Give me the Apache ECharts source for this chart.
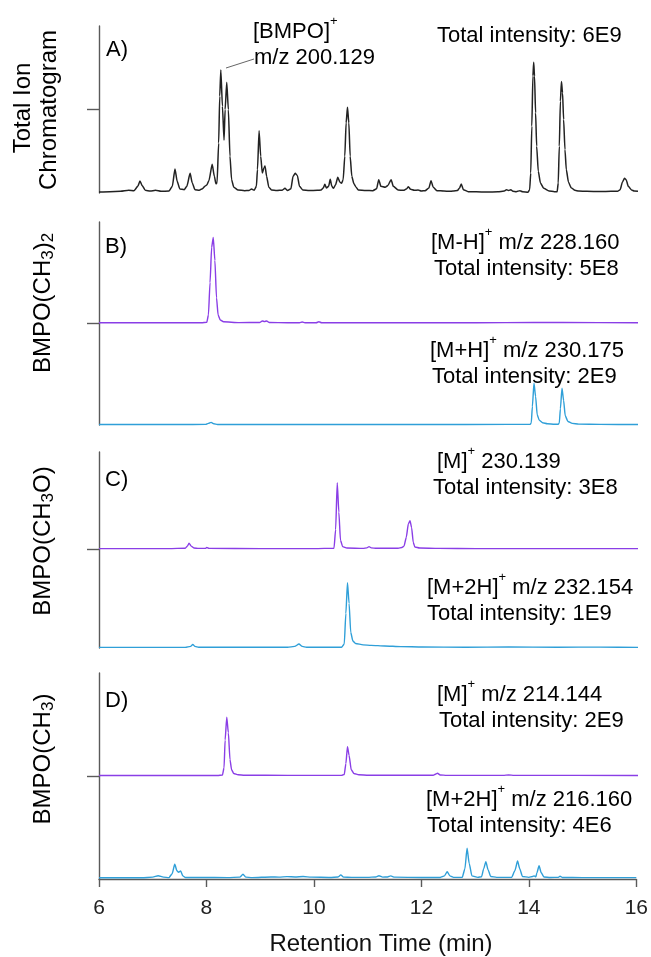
<!DOCTYPE html>
<html>
<head>
<meta charset="utf-8">
<script src="https://cdn.jsdelivr.net/npm/echarts@6/dist/echarts.min.js"></script>
<style>
  html, body { margin: 0; padding: 0; background: #fff; }
  #chart { width: 651px; height: 957px; }
</style>
</head>
<body>
<div id="chart"></div>
<script>
// retention time ticks (min)
var xTicks = [6, 8, 10, 12, 14, 16];

// A) total ion chromatogram, [time, relative height]
var ticTrace = [
  [6.00,0.6],[6.20,0.8],[6.40,1.0],[6.55,1.6],[6.65,1.4],[6.72,4.0],[6.76,7.2],[6.80,4.5],[6.86,1.6],[6.95,1.2],
  [7.05,1.6],[7.15,1.0],[7.30,1.2],[7.36,4.0],[7.41,14.4],[7.45,7.0],[7.50,2.4],[7.58,2.0],[7.63,4.0],[7.69,11.8],
  [7.73,6.0],[7.78,2.0],[7.86,1.6],[7.92,2.6],[7.97,4.2],[8.00,4.8],[8.04,7.5],[8.10,17.2],[8.14,10.0],[8.17,5.5],
  [8.19,6.0],[8.22,30.0],[8.24,58.0],[8.26,73.7],[8.29,52.0],[8.32,31.7],[8.34,50.0],[8.37,66.3],[8.40,50.0],[8.43,22.0],
  [8.46,8.0],[8.50,3.5],[8.58,1.8],[8.70,1.4],[8.78,1.5],[8.83,2.4],[8.88,1.6],[8.92,4.0],[8.94,14.0],[8.97,37.3],
  [9.00,22.0],[9.03,12.0],[9.06,15.0],[9.08,16.2],[9.11,10.0],[9.15,3.5],[9.20,1.8],[9.30,1.5],[9.40,1.7],[9.45,2.8],
  [9.50,1.5],[9.56,2.5],[9.60,10.0],[9.64,11.8],[9.68,10.5],[9.72,4.0],[9.78,1.8],[9.90,1.5],[10.05,1.6],[10.12,1.8],
  [10.16,3.0],[10.19,5.2],[10.22,3.0],[10.26,4.0],[10.29,8.2],[10.32,4.0],[10.35,2.8],[10.39,5.0],[10.43,9.4],[10.47,6.5],
  [10.50,5.8],[10.53,8.0],[10.56,22.0],[10.585,42.0],[10.61,51.3],[10.635,42.0],[10.66,22.0],[10.69,10.0],[10.73,5.5],[10.77,3.5],
  [10.81,1.8],[10.95,1.5],[11.08,1.4],[11.15,2.5],[11.19,8.0],[11.23,4.0],[11.31,3.4],[11.36,4.5],[11.42,8.0],[11.46,4.0],
  [11.55,1.8],[11.65,1.6],[11.71,2.5],[11.74,3.8],[11.78,2.2],[11.85,1.6],[11.92,1.8],[11.98,1.2],[12.05,1.4],[12.12,3.0],
  [12.16,7.4],[12.20,3.5],[12.27,1.4],[12.40,1.2],[12.50,1.0],[12.57,1.2],[12.65,1.5],[12.69,3.0],[12.72,5.4],[12.76,2.0],
  [12.85,0.8],[13.00,0.7],[13.20,0.6],[13.40,0.7],[13.52,1.2],[13.56,2.0],[13.60,1.5],[13.64,2.0],[13.68,1.0],[13.74,0.8],
  [13.81,1.4],[13.86,0.7],[13.96,0.5],[13.99,2.0],[14.01,12.0],[14.03,40.0],[14.05,70.0],[14.065,78.3],[14.08,70.0],[14.10,48.0],
  [14.12,28.0],[14.15,13.0],[14.19,6.0],[14.25,2.8],[14.35,1.2],[14.45,0.8],[14.50,0.8],[14.52,6.0],[14.54,28.0],[14.56,55.0],
  [14.58,66.7],[14.60,60.0],[14.62,44.0],[14.645,26.0],[14.67,14.0],[14.71,6.5],[14.76,3.2],[14.83,1.6],[14.90,1.2],[15.05,1.0],
  [15.30,0.9],[15.50,1.0],[15.62,1.0],[15.67,2.0],[15.71,6.5],[15.75,8.8],[15.78,8.0],[15.82,4.0],[15.88,1.8],[15.93,1.2],
  [16.00,1.0]
];

// B) BMPO(CH3)2
var bMinusH = [ // [M-H]+ m/z 228.160
  [6.00,0.3],[7.00,0.3],[7.90,0.3],[8.00,0.8],[8.03,8],[8.06,40],[8.09,75],[8.12,84.8],[8.15,62],[8.18,25],
  [8.21,8],[8.25,3.0],[8.31,1.2],[8.60,0.4],[8.98,0.5],[9.03,2.0],[9.07,1.4],[9.11,2.0],[9.16,0.5],[9.50,0.3],
  [9.72,0.3],[9.77,1.0],[9.82,0.3],[10.03,0.3],[10.08,1.2],[10.13,0.3],[11.00,0.3],[12.00,0.2],[13.00,0.2],[14.07,0.6],
  [14.60,0.5],[16.00,0.2]
];
var bPlusH = [ // [M+H]+ m/z 230.175
  [6.00,0.5],[7.50,0.5],[7.98,0.6],[8.03,1.6],[8.08,2.6],[8.13,1.2],[8.20,0.5],[10.00,0.5],[12.00,0.5],[13.60,0.6],
  [14.00,0.6],[14.02,2],[14.04,18],[14.07,40.9],[14.10,28],[14.13,10],[14.17,4.5],[14.23,2.2],[14.32,1.2],[14.45,0.8],
  [14.52,0.8],[14.54,2],[14.56,16],[14.59,36],[14.62,24],[14.65,9],[14.70,3.5],[14.78,1.6],[14.90,0.9],[15.30,0.6],
  [16.00,0.5]
];

// C) BMPO(CH3O)
var cM = [ // [M]+ 230.139
  [6.00,0.4],[7.30,0.4],[7.60,0.8],[7.64,3],[7.67,5.9],[7.71,3],[7.76,1.0],[7.85,0.6],[7.97,0.6],[8.00,1.5],
  [8.04,0.6],[9.00,0.4],[10.00,0.4],[10.36,0.8],[10.39,20],[10.42,68.4],[10.45,38],[10.48,9],[10.52,2.5],[10.60,1],
  [10.90,0.6],[10.97,1.2],[11.01,2.4],[11.05,1.2],[11.15,0.7],[11.55,0.8],[11.62,1.5],[11.66,3],[11.70,12],[11.74,26],
  [11.77,29.2],[11.80,22],[11.83,7],[11.86,2],[11.95,1.0],[12.30,0.6],[13.00,0.4],[16.00,0.4]
];
var cM2H = [ // [M+2H]+ m/z 232.154
  [6.00,0.6],[7.60,0.6],[7.70,1.6],[7.74,3.7],[7.78,1.6],[7.85,0.7],[9.50,0.7],[9.63,1.6],[9.71,4.0],[9.77,1.6],
  [9.85,0.8],[10.50,0.8],[10.55,4],[10.58,35],[10.61,66],[10.64,45],[10.67,16],[10.71,7],[10.76,4.5],[10.90,3.2],
  [11.05,2.7],[11.30,2.0],[11.60,1.4],[12.00,1.0],[12.80,0.8],[13.60,1.0],[14.50,0.8],[15.30,0.9],[16.00,0.6]
];

// D) BMPO(CH3)
var dM = [ // [M]+ m/z 214.144
  [6.00,0.5],[8.20,0.5],[8.29,1.0],[8.32,8],[8.34,35],[8.37,57],[8.40,42],[8.43,16],[8.46,6],[8.50,2.5],
  [8.58,1.2],[8.70,0.8],[9.50,0.6],[10.50,0.6],[10.55,1.5],[10.58,12],[10.61,28.5],[10.64,20],[10.68,6],[10.73,2.4],
  [10.82,1.2],[11.00,0.7],[12.20,0.7],[12.25,2],[12.28,2.6],[12.33,1.0],[12.45,0.6],[13.50,0.6],[13.60,1.0],[13.70,0.6],
  [16.00,0.5]
];
var dM2H = [ // [M+2H]+ m/z 216.160
  [6.00,1.2],[6.80,1.2],[7.00,1.8],[7.10,3.2],[7.20,1.8],[7.30,1.3],[7.36,5],[7.41,14.3],[7.45,8],[7.48,6.5],
  [7.52,7.8],[7.56,3],[7.61,1.4],[7.90,1.5],[8.40,1.3],[8.62,1.8],[8.68,4.6],[8.73,1.8],[8.85,1.3],[9.20,2.0],
  [9.35,1.8],[9.50,2.3],[9.65,2.0],[9.80,2.4],[9.95,1.8],[10.30,1.5],[10.45,2.0],[10.50,3.9],[10.55,1.8],[10.70,1.6],
  [11.00,1.6],[11.15,2.0],[11.21,3.2],[11.28,1.8],[11.37,2.0],[11.43,3.0],[11.50,1.8],[12.00,1.4],[12.35,1.5],[12.43,3],
  [12.48,7.1],[12.53,3],[12.60,1.6],[12.76,1.6],[12.81,10],[12.85,29.8],[12.89,15],[12.94,3],[13.05,1.6],[13.12,2.2],
  [13.16,10],[13.20,16.8],[13.24,9],[13.29,2.5],[13.40,1.6],[13.68,1.6],[13.74,8],[13.79,17.5],[13.83,10],[13.88,2.5],
  [14.00,1.6],[14.07,2.5],[14.10,3],[14.13,2.2],[14.15,6],[14.19,12.9],[14.23,6],[14.28,2.0],[14.40,1.5],[14.55,1.6],
  [14.58,2.8],[14.62,1.5],[15.00,1.3],[16.00,1.3]
];

var FONT = 'Liberation Sans';
var AXIS = '#5a5a5a';
var BLACK = '#222222';
var PURPLE = '#8a3ee6';
var BLUE = '#2f9fd8';

// panel slots: [top, height]
var slots = [[26, 167], [222, 101], [323, 102], [452, 97], [549, 99], [673, 103], [776, 103]];
var traces = [ticTrace, bMinusH, bPlusH, cM, cM2H, dM, dM2H];
var colors = [BLACK, PURPLE, BLUE, PURPLE, BLUE, PURPLE, BLUE];
var tickAt = [[50], [0], null, [0], null, [0], null];

var grids = [], xAxes = [], yAxes = [], series = [];
slots.forEach(function (s, i) {
    var last = i === slots.length - 1;
    grids.push({ left: 99, right: 13, top: s[0], height: s[1] });
    xAxes.push({
        type: 'value', gridIndex: i,
        min: xTicks[0], max: xTicks[xTicks.length - 1], interval: xTicks[1] - xTicks[0],
        show: last,
        axisLine: { show: last, lineStyle: { color: AXIS, width: 1.4 } },
        axisTick: { show: last, length: 8, lineStyle: { color: AXIS, width: 1.4 } },
        axisLabel: { show: last, fontFamily: FONT, fontSize: 21, color: '#222', margin: 19 },
        splitLine: { show: false }
    });
    yAxes.push({
        type: 'value', gridIndex: i, min: 0, max: 100,
        axisLine: { show: true, lineStyle: { color: AXIS, width: 1.4 } },
        axisTick: tickAt[i] ? { show: true, length: 12, customValues: tickAt[i], lineStyle: { color: AXIS, width: 1.4 } } : { show: false },
        axisLabel: { show: false },
        splitLine: { show: false }
    });
    series.push({
        type: 'line', xAxisIndex: i, yAxisIndex: i,
        data: traces[i], symbol: 'none', smooth: 0.2, smoothMonotone: 'x',
        clip: false, silent: true,
        lineStyle: { color: colors[i], width: i === 0 ? 1.5 : 1.4 }
    });
});

var rich = {
    n: { fontFamily: FONT, fontSize: 22, color: '#111', lineHeight: 34 },
    sup: { fontFamily: FONT, fontSize: 13, color: '#111', lineHeight: 12, verticalAlign: 'top' }
};
var yRich = {
    n: { fontFamily: FONT, fontSize: 24, color: '#111', lineHeight: 28 },
    sub: { fontFamily: FONT, fontSize: 17, color: '#111', lineHeight: 14, verticalAlign: 'bottom' }
};

function label(x, y, text) {
    return {
        type: 'text', x: x, y: y, silent: true,
        style: { text: text, rich: rich, align: 'left', verticalAlign: 'middle',
                 textAlign: 'left', textVerticalAlign: 'middle' }
    };
}
function yLabel(x, y, text) {
    return {
        type: 'text', x: x, y: y, rotation: Math.PI / 2, silent: true,
        style: { text: text, rich: yRich, align: 'center', verticalAlign: 'middle',
                 textAlign: 'center', textVerticalAlign: 'middle' }
    };
}

var graphics = [
    // y titles
    yLabel(23, 108, '{n|Total Ion}'),
    yLabel(49, 110, '{n|Chromatogram}'),
    yLabel(43, 303, '{n|BMPO(CH}{sub|3}{n|)}{sub|2}'),
    yLabel(43, 541, '{n|BMPO(CH}{sub|3}{n|O)}'),
    yLabel(43, 759, '{n|BMPO(CH}{sub|3}{n|)}'),
    // panel letters
    label(106, 50, '{n|A)}'),
    label(105, 247, '{n|B)}'),
    label(105, 480, '{n|C)}'),
    label(105, 701, '{n|D)}'),
    // A
    label(253, 32, '{n|[BMPO]}{sup|+}'),
    label(254, 58, '{n|m/z 200.129}'),
    label(437, 36, '{n|Total intensity: 6E9}'),
    // B
    label(431, 243, '{n|[M-H]}{sup|+}{n| m/z 228.160}'),
    label(434, 269, '{n|Total intensity: 5E8}'),
    label(430, 351, '{n|[M+H]}{sup|+}{n| m/z 230.175}'),
    label(432, 377, '{n|Total intensity: 2E9}'),
    // C
    label(437, 462, '{n|[M]}{sup|+}{n| 230.139}'),
    label(433, 488, '{n|Total intensity: 3E8}'),
    label(427, 588, '{n|[M+2H]}{sup|+}{n| m/z 232.154}'),
    label(427, 614, '{n|Total intensity: 1E9}'),
    // D
    label(437, 695, '{n|[M]}{sup|+}{n| m/z 214.144}'),
    label(439, 721, '{n|Total intensity: 2E9}'),
    label(426, 800, '{n|[M+2H]}{sup|+}{n| m/z 216.160}'),
    label(427, 826, '{n|Total intensity: 4E6}'),
    // x title
    {
        type: 'text', x: 381, y: 944, silent: true,
        style: { text: 'Retention Time (min)', fontFamily: FONT, fontSize: 24, fill: '#111',
                 align: 'center', verticalAlign: 'middle', textAlign: 'center', textVerticalAlign: 'middle' }
    },
    // leader line to the BMPO peak
    {
        type: 'line', silent: true,
        shape: { x1: 226, y1: 68, x2: 254, y2: 59 },
        style: { stroke: '#666', lineWidth: 1 }
    }
];

var chart = echarts.init(document.getElementById('chart'), null, { renderer: 'canvas' });
var option = {
    animation: false,
    backgroundColor: '#ffffff',
    grid: grids,
    xAxis: xAxes,
    yAxis: yAxes,
    series: series,
    graphic: graphics
};
chart.setOption(option);
</script>
</body>
</html>
